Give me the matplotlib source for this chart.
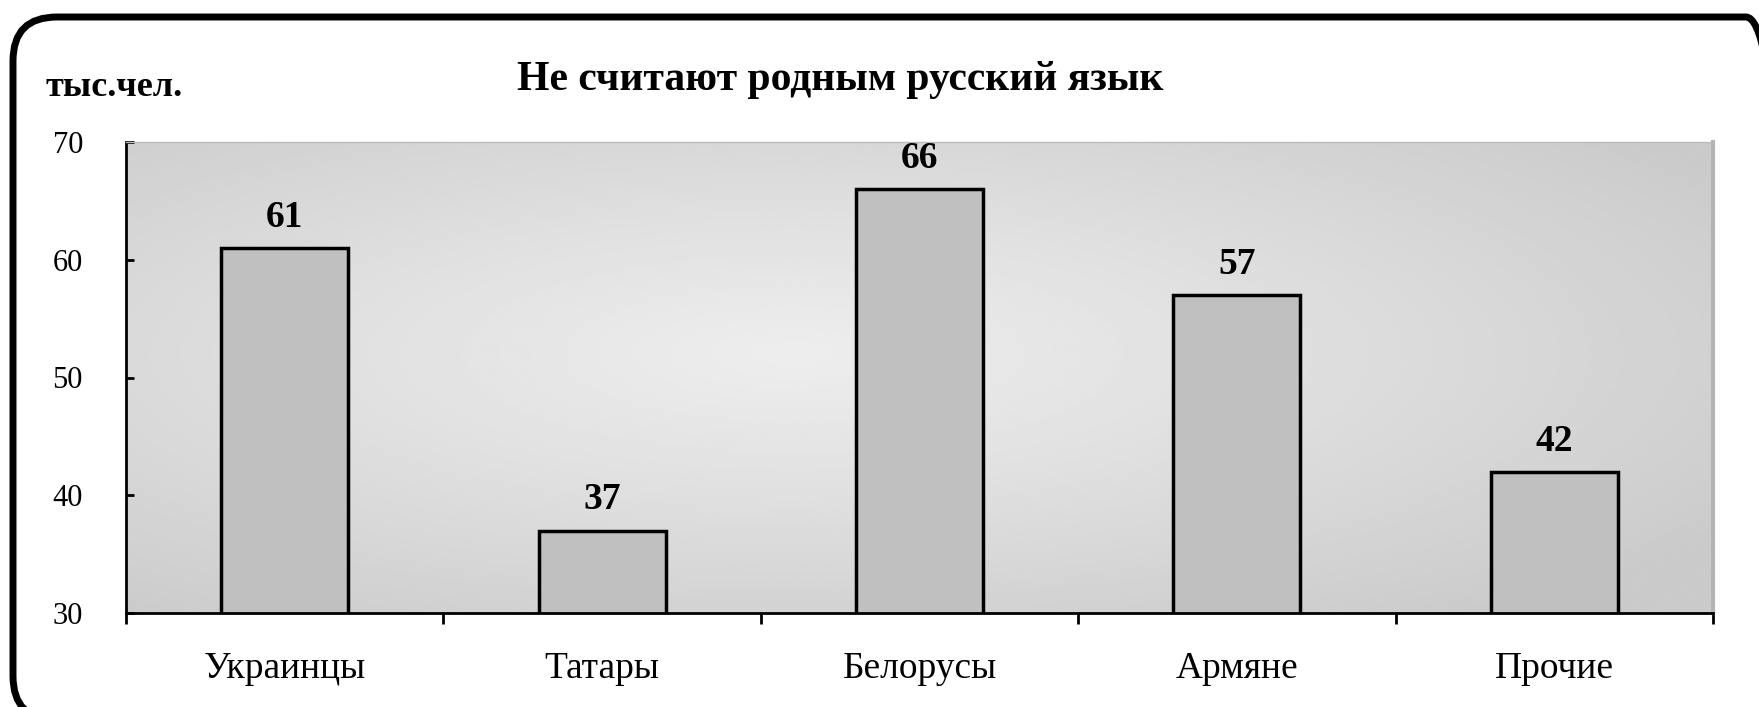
import numpy as np
import matplotlib
matplotlib.use("Agg")
import matplotlib.pyplot as plt
from matplotlib.patches import FancyBboxPatch

categories = ["Украинцы", "Татары", "Белорусы", "Армяне", "Прочие"]
values = [61, 37, 66, 57, 42]
yticks = [30, 40, 50, 60, 70]
title = "Не считают родным русский язык"
unit = "тыс.чел."

W, H = 1759, 707
fig = plt.figure(figsize=(W / 100, H / 100), dpi=100)
serif = ["Liberation Serif", "DejaVu Serif"]

L, R, T, B = 126, 1713, 142, 613
ax = fig.add_axes([L / W, 1 - B / H, (R - L) / W, (B - T) / H])

# radial gradient background
nx, ny = 400, 200
xx, yy = np.meshgrid(np.linspace(0, 1, nx), np.linspace(0, 1, ny))
d = np.sqrt(((xx - 0.42) / 0.7) ** 2 + ((yy - 0.55) / 0.7) ** 2)
d = np.clip(d, 0, 1)
g = 0.93 - (0.93 - 0.795) * d ** 1.1
ax.imshow(g, cmap="gray", vmin=0, vmax=1, extent=[0, 1, 0, 1],
          transform=ax.transAxes, aspect="auto", zorder=0, origin="lower",
          interpolation="bilinear")

x = np.arange(len(categories))
bars = ax.bar(x, values, width=0.40, color="#c0c0c0", edgecolor="black",
              linewidth=2.5, zorder=2)
ax.set_xlim(-0.5, len(categories) - 0.5)
ax.set_ylim(30, 70)

for xi, v in zip(x, values):
    ax.text(xi, v + 2.6, str(v), ha="center", va="center", fontsize=27,
            fontweight="bold", family=serif, zorder=3)

ax.set_yticks(yticks)
ax.set_yticklabels([str(t) for t in yticks], family=serif, fontsize=22)
ax.tick_params(axis="y", direction="in", length=6, width=2, pad=31)
ax.set_xticks(x)
ax.set_xticklabels(categories, family=serif, fontsize=27)
ax.tick_params(axis="x", length=0, pad=28)
ax.set_xticks(np.arange(-0.5, len(categories), 1.0), minor=True)
ax.tick_params(axis="x", which="minor", direction="out", length=8, width=2)

for s in ["left", "bottom"]:
    ax.spines[s].set_linewidth(2)
    ax.spines[s].set_color("black")
ax.spines["top"].set_color("#bbbbbb")
ax.spines["top"].set_linewidth(1)
ax.spines["right"].set_color("#b5b5b5")
ax.spines["right"].set_linewidth(3)

fig.text(840 / W, 1 - 80 / H, title, ha="center", va="center", fontsize=30,
         fontweight="bold", family=serif)
fig.text(45 / W, 1 - 87 / H, unit, ha="left", va="center", fontsize=26,
         fontweight="bold", family=serif)

# rounded outer frame
fx0, fy0, fx1, fy1 = 13, 17, 1790, 720
frame = FancyBboxPatch((fx0 / W, 1 - fy1 / H), (fx1 - fx0) / W, (fy1 - fy0) / H,
                       boxstyle="round,pad=0,rounding_size=0.025",
                       transform=fig.transFigure, fill=False,
                       edgecolor="black", linewidth=5, mutation_aspect=W / H,
                       clip_on=False)
fig.patches.append(frame)

fig.savefig("out.png", dpi=100)
